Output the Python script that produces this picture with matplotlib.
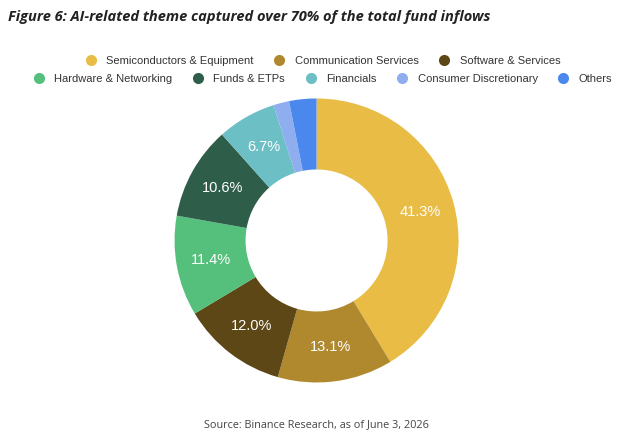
import matplotlib.pyplot as plt
from matplotlib.lines import Line2D

categories = ["Semiconductors & Equipment", "Communication Services", "Software & Services",
              "Hardware & Networking", "Funds & ETPs", "Financials",
              "Consumer Discretionary", "Others"]
shares = [41.3, 13.1, 12.0, 11.4, 10.6, 6.7, 1.8, 3.1]
colors = ["#E8BC45", "#B0882E", "#5E4716", "#55BF7C", "#2E5E4A", "#6CBFC4", "#8EAEF0", "#4A88EE"]

plt.rcParams['font.family'] = ['Liberation Sans', 'DejaVu Sans']

fig = plt.figure(figsize=(6.4, 4.43), dpi=100)

fig.text(0.012, 1 - 17 / 443, "Figure 6: AI-related theme captured over 70% of the total fund inflows",
         fontsize=10.5, fontweight='bold', fontstyle='italic', family='Open Sans',
         color='#222222', va='center', ha='left')

# donut: centre ~(316, 240) px, outer radius ~142 px
ax = fig.add_axes([0.2727, 0.1366, 0.4438, 0.6411])
wedges, texts, autotexts = ax.pie(
    shares, colors=colors, startangle=90, counterclock=False, radius=1,
    wedgeprops=dict(width=0.5, edgecolor='none'),
    autopct=lambda p: f"{p:.1f}%" if p > 5 else "", pctdistance=0.755,
    textprops=dict(color='white', fontsize=10.5))
ax.set_xlim(-1, 1)
ax.set_ylim(-1, 1)
ax.set_aspect('equal')

def handles(idx):
    return [Line2D([], [], marker='o', linestyle='none', markersize=8,
                   markerfacecolor=colors[i], markeredgecolor='none', label=categories[i])
            for i in idx]

leg_kw = dict(frameon=False, fontsize=8, handletextpad=0.4, columnspacing=1.3,
              labelcolor='#333333', loc='center', borderaxespad=0)
fig.legend(handles=handles([0, 1, 2]), ncol=3, bbox_to_anchor=(0.5, 1 - 61 / 443), **leg_kw)
fig.legend(handles=handles([3, 4, 5, 6, 7]), ncol=5, bbox_to_anchor=(0.5, 1 - 79 / 443), **leg_kw)

fig.text(0.495, 1 - 425 / 443, "Source: Binance Research, as of June 3, 2026",
         fontsize=7.8, color='#444444', ha='center', va='center', family='Open Sans')

fig.savefig("out.png", dpi=100, facecolor='white')
